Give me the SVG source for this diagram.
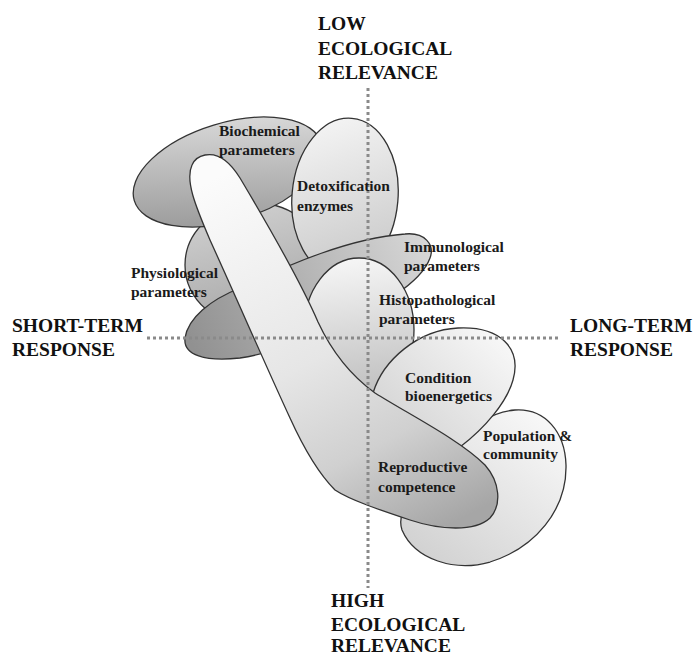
<svg xmlns="http://www.w3.org/2000/svg" width="696" height="657" viewBox="0 0 696 657">
<defs>
<linearGradient id="gPhys" x1="0" y1="0" x2="0.3" y2="1"><stop offset="0" stop-color="#d4d4d4"/><stop offset="1" stop-color="#a9a9a9"/></linearGradient>
<linearGradient id="gBio" x1="0.8" y1="0" x2="0.25" y2="1"><stop offset="0" stop-color="#dcdcdc"/><stop offset="1" stop-color="#999999"/></linearGradient>
<linearGradient id="gDetox" x1="0.3" y1="0" x2="0.6" y2="1"><stop offset="0" stop-color="#f4f4f4"/><stop offset="1" stop-color="#c9c9c9"/></linearGradient>
<linearGradient id="gImmu" gradientUnits="userSpaceOnUse" x1="190" y1="340" x2="430" y2="240"><stop offset="0" stop-color="#919191"/><stop offset="1" stop-color="#d8d8d8"/></linearGradient>
<linearGradient id="gHisto" x1="0.4" y1="0" x2="0.5" y2="1"><stop offset="0" stop-color="#f6f6f6"/><stop offset="1" stop-color="#bdbdbd"/></linearGradient>
<linearGradient id="gPop" gradientUnits="userSpaceOnUse" x1="540" y1="420" x2="430" y2="560"><stop offset="0" stop-color="#f7f7f7"/><stop offset="1" stop-color="#d2d2d2"/></linearGradient>
<linearGradient id="gCond" gradientUnits="userSpaceOnUse" x1="500" y1="330" x2="400" y2="430"><stop offset="0" stop-color="#f8f8f8"/><stop offset="1" stop-color="#d6d6d6"/></linearGradient>
<linearGradient id="gTube" gradientUnits="userSpaceOnUse" x1="230" y1="170" x2="420" y2="540"><stop offset="0" stop-color="#fbfbfb"/><stop offset="0.5" stop-color="#e6e6e6"/><stop offset="0.75" stop-color="#d0d0d0"/><stop offset="1" stop-color="#a6a6a6"/></linearGradient>
</defs>
<style>
.shape{stroke:#333;stroke-width:1.3}
.lbl{font-family:"Liberation Serif","Times New Roman",serif;font-weight:bold;font-size:15.5px;fill:#1a1a1a}
.axis{font-family:"Liberation Serif","Times New Roman",serif;font-weight:bold;font-size:19.5px;fill:#111}
.dot{stroke:#8a8a8a;stroke-width:3;stroke-dasharray:3 3;fill:none}
</style>
<rect width="696" height="657" fill="#fff"/>

<g id="physiological">
<ellipse class="shape" cx="255" cy="265" rx="70" ry="62" fill="url(#gPhys)"/>
</g>
<g id="biochemical">
<ellipse class="shape" cx="228" cy="172" rx="98" ry="49" transform="rotate(-17 228 172)" fill="url(#gBio)"/>
</g>
<g id="detoxification">
<ellipse class="shape" cx="345" cy="197" rx="53" ry="79" transform="rotate(5 345 197)" fill="url(#gDetox)"/>
</g>
<g id="immunological">
<path class="shape" fill="url(#gImmu)" d="M185,338 C188,318 210,300 240,288 C290,264 350,238 405,234 C425,232 435,245 430,258 C425,272 410,285 395,295 C350,325 290,350 240,358 C205,362 183,355 185,338 Z"/>
</g>
<g id="histopathological">
<ellipse class="shape" cx="359" cy="330" rx="55" ry="72" fill="url(#gHisto)"/>
</g>
<g id="population">
<path class="shape" fill="url(#gPop)" d="M460,443 C470,428 490,412 515,410 C545,408 565,432 566,465 C567,510 535,548 490,562 C455,572 415,560 402,530 C395,510 420,470 460,443 Z"/>
</g>
<g id="condition">
<path class="shape" fill="url(#gCond)" d="M373,393 C383,360 418,330 458,328 C500,326 522,348 513,380 C507,402 485,428 460,447 C430,465 390,440 373,393 Z"/>
</g>
<g id="reproductive">
<path class="shape" fill="url(#gTube)" d="M205,155 C220,152 232,165 240,178 C265,220 300,280 318,322 C332,352 350,375 375,393 C410,415 460,440 485,465 C500,482 502,505 490,518 C475,532 440,530 410,520 C380,510 350,500 335,490 C315,470 300,440 290,418 C270,375 235,295 210,240 C195,205 185,180 192,165 C195,158 200,156 205,155 Z"/>
</g>

<g id="connectors">
<line class="dot" x1="368" y1="88" x2="368" y2="588"/>
<line class="dot" x1="147" y1="338" x2="558" y2="338"/>
</g>

<g id="labels">
<text class="lbl" x="219" y="136">Biochemical</text>
<text class="lbl" x="219" y="155">parameters</text>
<text class="lbl" x="297" y="191">Detoxification</text>
<text class="lbl" x="297" y="211">enzymes</text>
<text class="lbl" x="404" y="252">Immunological</text>
<text class="lbl" x="404" y="271">parameters</text>
<text class="lbl" x="131" y="278">Physiological</text>
<text class="lbl" x="131" y="297">parameters</text>
<text class="lbl" x="379" y="305">Histopathological</text>
<text class="lbl" x="379" y="324">parameters</text>
<text class="lbl" x="405" y="383">Condition</text>
<text class="lbl" x="405" y="401">bioenergetics</text>
<text class="lbl" x="483" y="441">Population &amp;</text>
<text class="lbl" x="483" y="459">community</text>
<text class="lbl" x="378" y="472">Reproductive</text>
<text class="lbl" x="378" y="492">competence</text>
</g>
<g id="axes">
<text class="axis" x="318" y="30">LOW</text>
<text class="axis" x="318" y="55">ECOLOGICAL</text>
<text class="axis" x="318" y="79">RELEVANCE</text>
<text class="axis" x="12" y="332">SHORT-TERM</text>
<text class="axis" x="12" y="356">RESPONSE</text>
<text class="axis" x="570" y="332">LONG-TERM</text>
<text class="axis" x="570" y="356">RESPONSE</text>
<text class="axis" x="331" y="607">HIGH</text>
<text class="axis" x="331" y="631">ECOLOGICAL</text>
<text class="axis" x="331" y="652">RELEVANCE</text>
</g>
</svg>
